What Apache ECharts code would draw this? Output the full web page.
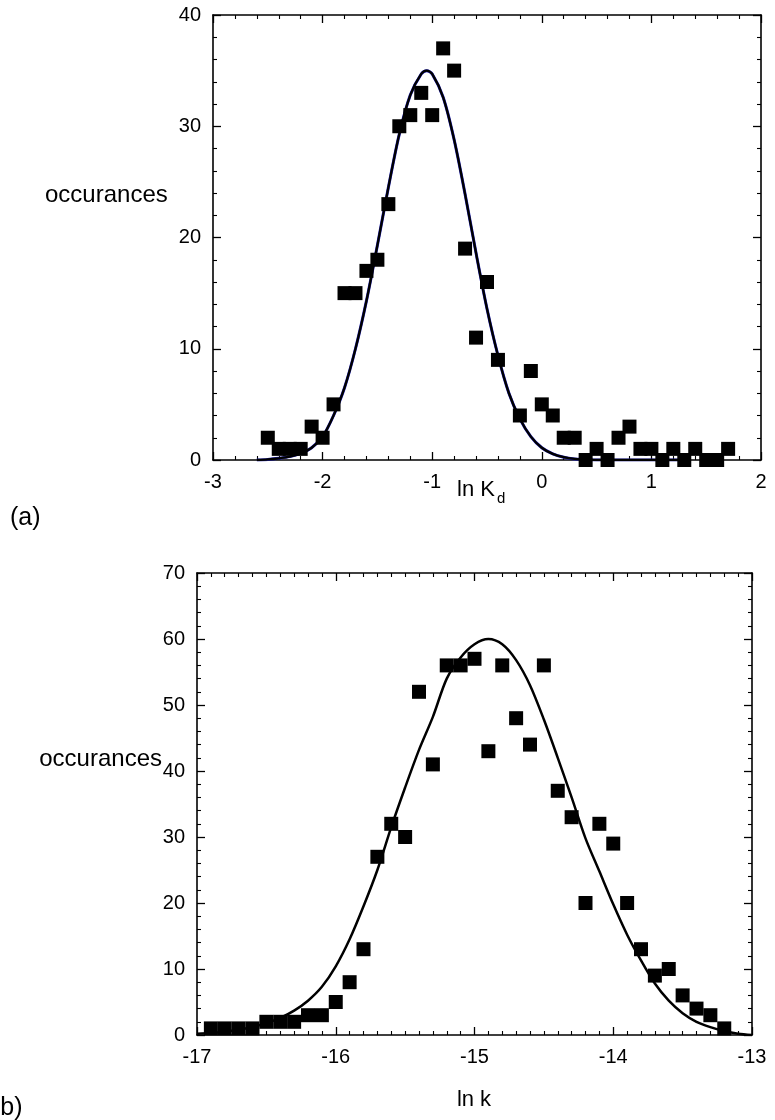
<!DOCTYPE html>
<html><head><meta charset="utf-8">
<script src="https://cdn.jsdelivr.net/npm/echarts@6/dist/echarts.min.js"></script>
<style>html,body{margin:0;padding:0;background:#fff}#c{width:775px;height:1120px}</style>
</head><body><div id="c"></div>
<script>
// ---- panel (a): ln Kd histogram ----
const aRangeX = [-3, 2];
const aRangeY = [0, 40];
const aX = [-2.5,-2.4,-2.3,-2.2,-2.1,-2.0,-1.9,-1.8,-1.7,-1.6,-1.5,-1.4,-1.3,-1.2,-1.1,-1.0,-0.9,-0.8,-0.7,-0.6,-0.5,-0.4,-0.2,-0.1,0.0,0.1,0.2,0.3,0.4,0.5,0.6,0.7,0.8,0.9,1.0,1.1,1.2,1.3,1.4,1.5,1.6,1.7];
const aY = [2,1,1,1,3,2,5,15,15,17,18,23,30,31,33,31,37,35,19,11,16,9,4,8,5,4,2,2,0,1,0,2,3,1,1,0,1,0,1,0,0,1];
const aFitX = [-2.6,-2.5,-2.4,-2.3,-2.2,-2.1,-2.0,-1.9,-1.8,-1.7,-1.6,-1.5,-1.4,-1.3,-1.2,-1.1,-1.05,-1.0,-0.9,-0.8,-0.7,-0.6,-0.5,-0.4,-0.3,-0.2,-0.1,0.0,0.1,0.2,0.3,0.4,0.5,0.7,0.9,1.1,1.3];
const aFitY = [0.0,0.05,0.15,0.3,0.6,1.1,2.1,4.0,6.5,10.0,14.3,19.3,24.5,29.3,32.8,34.7,35.0,34.7,32.6,28.8,23.9,18.6,13.6,9.4,6.0,3.7,2.1,1.1,0.55,0.25,0.1,0.05,0.0,0.0,0.0,0.0,0.0];

// ---- panel (b): ln k histogram ----
const bRangeX = [-17, -13];
const bRangeY = [0, 70];
const bX = [-16.9,-16.8,-16.7,-16.6,-16.5,-16.4,-16.3,-16.2,-16.1,-16.0,-15.9,-15.8,-15.7,-15.6,-15.5,-15.4,-15.3,-15.2,-15.1,-15.0,-14.9,-14.8,-14.7,-14.6,-14.5,-14.4,-14.3,-14.2,-14.1,-14.0,-13.9,-13.8,-13.7,-13.6,-13.5,-13.4,-13.3,-13.2];
const bY = [1,1,1,1,2,2,2,3,3,5,8,13,27,32,30,52,41,56,56,57,43,56,48,44,56,37,33,20,32,29,20,13,9,10,6,4,3,1];
const bFitX = [-17.0,-16.9,-16.8,-16.7,-16.6,-16.5,-16.4,-16.3,-16.2,-16.1,-16.0,-15.9,-15.8,-15.7,-15.6,-15.5,-15.4,-15.3,-15.2,-15.1,-15.0,-14.9,-14.8,-14.7,-14.6,-14.5,-14.4,-14.3,-14.2,-14.1,-14.0,-13.9,-13.8,-13.7,-13.6,-13.5,-13.4,-13.3,-13.2,-13.1,-13.0];
const bFitY = [0.2,0.3,0.5,0.8,1.2,1.8,2.6,3.7,5.2,7.3,10.4,14.5,19.5,25.0,31.5,37.5,43.2,48.2,54.0,57.2,59.2,60.0,59.2,56.8,53.0,47.8,42.0,36.0,29.8,24.8,19.8,15.2,11.3,7.8,5.2,3.3,2.0,1.2,0.6,0.2,0.0];

const zip = (xs, ys) => xs.map((x, i) => [x, ys[i]]);
const FONT = '"Liberation Sans", Arial, Helvetica, sans-serif';
const TICKFS = 20;

function xAx(grid, range, minorSplit, pos, labels) {
  return {
    type: 'value', gridIndex: grid, position: pos, min: range[0], max: range[1], interval: 1,
    axisLine: { show: true, onZero: false, lineStyle: { color: '#000', width: 1.6 } },
    axisTick: { show: true, inside: true, length: 8, lineStyle: { color: '#000', width: 1.3 } },
    minorTick: { show: true, splitNumber: minorSplit, length: 4, lineStyle: { color: '#000', width: 1.1 } },
    axisLabel: { show: labels, margin: 12, fontSize: TICKFS, color: '#000', fontFamily: FONT },
    splitLine: { show: false }
  };
}
function yAx(grid, range, pos, labels) {
  return {
    type: 'value', gridIndex: grid, position: pos, min: range[0], max: range[1], interval: 10,
    axisLine: { show: true, onZero: false, lineStyle: { color: '#000', width: 1.6 } },
    axisTick: { show: true, inside: true, length: 8, lineStyle: { color: '#000', width: 1.3 } },
    minorTick: { show: true, splitNumber: 5, length: 4, lineStyle: { color: '#000', width: 1.1 } },
    axisLabel: { show: labels, margin: 12, fontSize: TICKFS, color: '#000', fontFamily: FONT },
    splitLine: { show: false }
  };
}
function txt(x, y, text, size, align) {
  return { type: 'text', x: x, y: y, silent: true,
    style: { text: text, fontSize: size, fill: '#000', fontFamily: FONT, align: align || 'left', verticalAlign: 'middle' } };
}

const chart = echarts.init(document.getElementById('c'));
chart.setOption({
  backgroundColor: '#fff',
  animation: false,
  grid: [
    { left: 213, top: 15, width: 548, height: 445 },
    { left: 197, top: 573, width: 555, height: 462 }
  ],
  xAxis: [
    xAx(0, aRangeX, 5, 'bottom', true),
    xAx(0, aRangeX, 5, 'top', false),
    xAx(1, bRangeX, 10, 'bottom', true),
    xAx(1, bRangeX, 10, 'top', false)
  ],
  yAxis: [
    yAx(0, aRangeY, 'left', true),
    yAx(0, aRangeY, 'right', false),
    yAx(1, bRangeY, 'left', true),
    yAx(1, bRangeY, 'right', false)
  ],
  series: [
    { type: 'line', xAxisIndex: 0, yAxisIndex: 0, data: zip(aFitX, aFitY), showSymbol: false, smooth: 0.3,
      lineStyle: { color: '#2222b4', width: 3.0 }, z: 2 },
    { type: 'line', xAxisIndex: 0, yAxisIndex: 0, data: zip(aFitX, aFitY), showSymbol: false, smooth: 0.3,
      lineStyle: { color: '#000', width: 2.3 }, z: 3 },
    { type: 'scatter', xAxisIndex: 0, yAxisIndex: 0, data: zip(aX, aY), symbol: 'rect', symbolSize: 14,
      itemStyle: { color: '#000', opacity: 1 }, z: 4 },
    { type: 'line', xAxisIndex: 2, yAxisIndex: 2, data: zip(bFitX, bFitY), showSymbol: false, smooth: 0.3,
      lineStyle: { color: '#000', width: 2.5 }, z: 2 },
    { type: 'scatter', xAxisIndex: 2, yAxisIndex: 2, data: zip(bX, bY), symbol: 'rect', symbolSize: 14,
      itemStyle: { color: '#000', opacity: 1 }, z: 4 }
  ],
  graphic: [
    txt(45, 195, 'occurances', 24),
    txt(10, 518, '(a)', 25),
    txt(495, 490, 'ln K', 22, 'right'),
    txt(497, 499, 'd', 15),
    txt(162, 759, 'occurances', 24, 'right'),
    txt(474, 1100, 'ln k', 22, 'center'),
    txt(-8, 1108, '(b)', 25)
  ]
});
</script>
</body></html>
